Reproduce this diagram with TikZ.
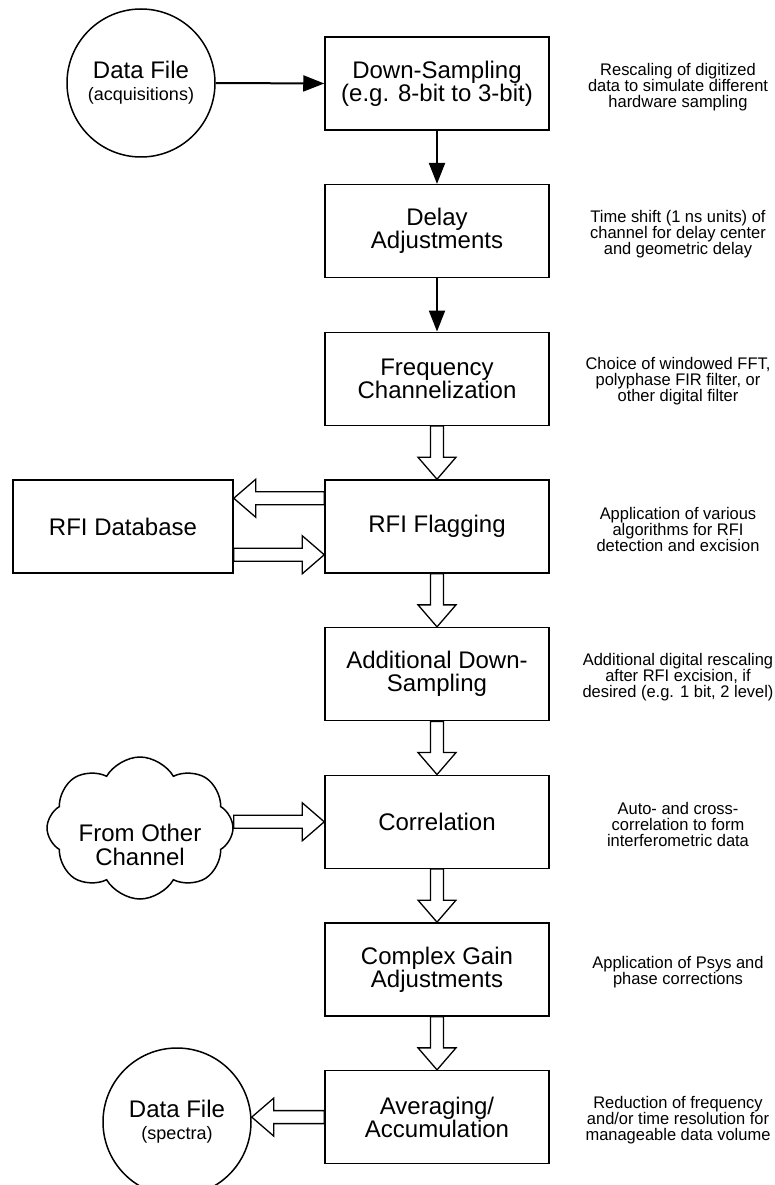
\documentclass[tikz,border=0pt]{standalone}
\usepackage{fontspec}
\setmainfont{Liberation Sans}
\newfontfamily\notefont{Liberation Sans}[FakeStretch=0.98]
\usetikzlibrary{arrows.meta,shapes.symbols,calc}
\begin{document}
\begin{tikzpicture}[x=1pt,y=-1pt,
  box/.style={draw, line width=1.5pt, minimum width=224pt, minimum height=93pt,
    align=center, inner sep=2pt, font=\fontsize{24}{23}\selectfont},
  note/.style={align=center, inner sep=0pt, font=\notefont\fontsize{16.8}{16}\selectfont},
  datafile/.style={draw, circle, line width=1.5pt, minimum size=148pt, inner sep=0pt,
    align=center, font=\fontsize{24}{26}\selectfont},
  solidarrow/.style={line width=2pt, -{Triangle[length=21pt,width=16pt]}},
  harrow/.style={draw, fill=white, line width=1.3pt, line join=miter},
  hollow/.style={to path={
    ($(\tikztostart)!6.5pt!90:(\tikztotarget)$)
    -- ($(\tikztotarget)!22pt!(\tikztostart)!6.5pt!-90:(\tikztostart)$)
    -- ($(\tikztotarget)!22pt!(\tikztostart)!19pt!-90:(\tikztostart)$)
    -- (\tikztotarget)
    -- ($(\tikztotarget)!22pt!(\tikztostart)!19pt!90:(\tikztostart)$)
    -- ($(\tikztotarget)!22pt!(\tikztostart)!6.5pt!90:(\tikztostart)$)
    -- ($(\tikztostart)!6.5pt!-90:(\tikztotarget)$)
    -- cycle}}
]
\useasboundingbox (0,0) rectangle (774,1185);

% main column
\node[box] (ds)    at (437,83.5)  {Down-Sampling\\(e.g. 8-bit to 3-bit)};
\node[box] (delay) at (437,231.2) {Delay\\Adjustments};
\node[box] (freq)  at (437,378.8) {Frequency\\Channelization};
\node[box] (rfi)   at (437,526.5) {RFI Flagging};
\node[box] (add)   at (437,674.1) {Additional Down-\\Sampling};
\node[box] (corr)  at (437,821.8) {Correlation};
\node[box] (cg)    at (437,969.4) {Complex Gain\\Adjustments};
\node[box] (avg)   at (437,1117.1) {Averaging/\\Accumulation};

% side elements
\node[datafile] (dfa) at (141,83) {Data File\\[-4pt]{\fontsize{18}{18}\selectfont(acquisitions)}};
\node[box, minimum width=220pt] (db) at (123,526.5) {RFI Database};
\node[cloud, draw, line width=1.5pt, cloud puffs=8, cloud puff arc=120, aspect=1.3,
  minimum width=186pt, minimum height=142pt, inner sep=0pt] (cloud) at (140,828) {};
\node[align=center, inner sep=0pt, font=\fontsize{24}{24}\selectfont] (cloudtext)
  at ([yshift=-17pt]cloud.center) {From Other\\Channel};
\node[datafile] (dfs) at (177,1122) {Data File\\[-4pt]{\fontsize{18}{18}\selectfont(spectra)}};

% notes
\node[note] (n1) at (678,87)   {Rescaling of digitized\\data to simulate different\\hardware sampling};
\node[note] (n2) at (678,234)  {Time shift (1 ns units) of\\channel for delay center\\and geometric delay};
\node[note] (n3) at (678,381)  {Choice of windowed FFT,\\polyphase FIR filter, or\\other digital filter};
\node[note] (n4) at (678,529)  {Application of various\\algorithms for RFI\\detection and excision};
\node[note] (n5) at (678,677)  {Additional digital rescaling\\after RFI excision, if\\desired (e.g. 1 bit, 2 level)};
\node[note] (n6) at (678,824)  {Auto- and cross-\\correlation to form\\interferometric data};
\node[note] (n7) at (678,972)  {Application of Psys and\\phase corrections};
\node[note] (n8) at (678,1120) {Reduction of frequency\\and/or time resolution for\\manageable data volume};

% solid arrows
\draw[solidarrow] (dfa.east) -- (ds.west);
\draw[solidarrow] (ds.south) -- (delay.north);
\draw[solidarrow] (delay.south) -- (freq.north);

% hollow arrows
\draw[harrow] (freq.south) to[hollow] (rfi.north);
\draw[harrow] (rfi.south) to[hollow] (add.north);
\draw[harrow] (add.south) to[hollow] (corr.north);
\draw[harrow] (corr.south) to[hollow] (cg.north);
\draw[harrow] (cg.south) to[hollow] (avg.north);

\coordinate (r1) at ([yshift=-19pt]rfi.north west);
\coordinate (d1) at ([yshift=-19pt]db.north east);
\coordinate (d2) at ([yshift=19pt]db.south east);
\coordinate (r2) at ([yshift=19pt]rfi.south west);
\draw[harrow] (r1) to[hollow] (d1);
\draw[harrow] (d2) to[hollow] (r2);

\coordinate (cin) at (corr.west);
\coordinate (cout) at (cloud.east |- corr.west);
\draw[harrow] (cout) to[hollow] (cin);
\coordinate (dout) at (avg.west -| dfs.east);
\draw[harrow] (avg.west) to[hollow] (dout);
\end{tikzpicture}
\end{document}
